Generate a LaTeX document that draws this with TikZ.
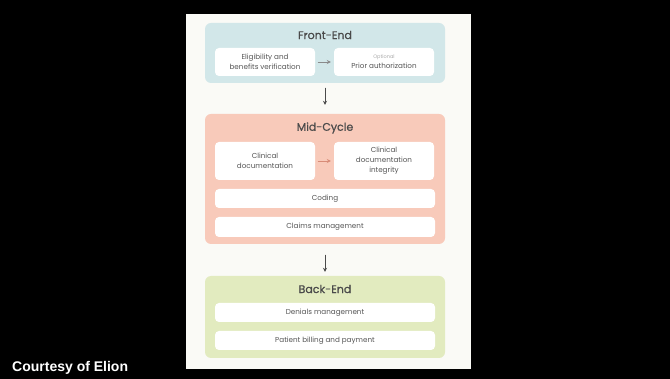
\documentclass[tikz,border=0pt]{standalone}
\usepackage{fontspec}
\setmainfont{Poppins}
\newfontfamily\creditfont{Liberation Sans}
\newfontfamily\titlefont{Poppins}[FakeBold=0.6]
\usetikzlibrary{arrows.meta}
\definecolor{panelbg}{HTML}{FAFAF6}
\definecolor{frontbg}{HTML}{D2E7E9}
\definecolor{midbg}{HTML}{F8CABA}
\definecolor{backbg}{HTML}{E2EBBF}
\definecolor{titlegrey}{HTML}{4A4A4A}
\definecolor{textgrey}{HTML}{555555}
\definecolor{optgrey}{HTML}{ABABAB}
\definecolor{arrowgrey}{HTML}{8A8A8A}
\definecolor{arrowred}{HTML}{D88C78}
\tikzset{
  stage/.style={rounded corners=6pt, draw=none},
  ttl/.style={text=titlegrey, font=\titlefont\fontsize{11}{13}\selectfont},
  item/.style={fill=white, rounded corners=4pt, text=textgrey, align=center,
    inner sep=0pt, font=\fontsize{7.2}{10}\selectfont},
  flow/.style={->, line width=0.7pt, draw=arrowgrey},
  down/.style={->, line width=0.8pt, draw=titlegrey}
}
\begin{document}
\begin{tikzpicture}[x=1pt, y=-1pt, >={Stealth[length=4pt,width=4pt]}, line cap=round]
	\fill[black] (0,0) rectangle (670,379);
	\useasboundingbox (0,0) rectangle (670,379);
	\fill[panelbg] (186,14) rectangle (471,369);
	% front end
	\node[stage, fill=frontbg, minimum width=240pt, minimum height=60pt] (front) at (325,53) {};
	\node[ttl] (fronttitle) at (325,35) {Front-End};
	\node[item, minimum width=100pt, minimum height=28pt] (elig) at (265,62) {Eligibility and\\benefits verification};
	\node[item, minimum width=100pt, minimum height=28pt] (prior) at (384,62) {{\fontsize{5}{5}\selectfont\color{optgrey}Optional}\\Prior authorization};
	\draw[flow, shorten <=3pt, shorten >=3pt] (elig) -- (prior);
	% mid cycle
	\node[stage, fill=midbg, minimum width=240pt, minimum height=130pt] (mid) at (325,179) {};
	\node[ttl] (midtitle) at (325,128) {Mid-Cycle};
	\node[item, minimum width=100pt, minimum height=38pt] (clin) at (265,161) {Clinical\\documentation};
	\node[item, minimum width=100pt, minimum height=38pt] (cdi) at (384,161) {Clinical\\documentation\\integrity};
	\node[item, minimum width=220pt, minimum height=19pt] (coding) at (325,198.5) {Coding};
	\node[item, minimum width=220pt, minimum height=20pt] (claims) at (325,227) {Claims management};
	\draw[flow, draw=arrowred, shorten <=3pt, shorten >=3pt] (clin) -- (cdi);
	% back end
	\node[stage, fill=backbg, minimum width=240pt, minimum height=82pt] (back) at (325,317) {};
	\node[ttl] (backtitle) at (325,289) {Back-End};
	\node[item, minimum width=220pt, minimum height=19pt] (denials) at (325,312.5) {Denials management};
	\node[item, minimum width=220pt, minimum height=19pt] (billing) at (325,340.5) {Patient billing and payment};
	% stage arrows
	\draw[down, shorten <=5pt, shorten >=9pt] (front) -- (mid);
	\draw[down, shorten <=11pt, shorten >=4pt] (mid) -- (back);
	\node[anchor=base west, text=white, inner sep=0pt, font=\creditfont\fontsize{14}{16}\selectfont\bfseries] (credit) at (12,372) {Courtesy of Elion};
\end{tikzpicture}
\end{document}
